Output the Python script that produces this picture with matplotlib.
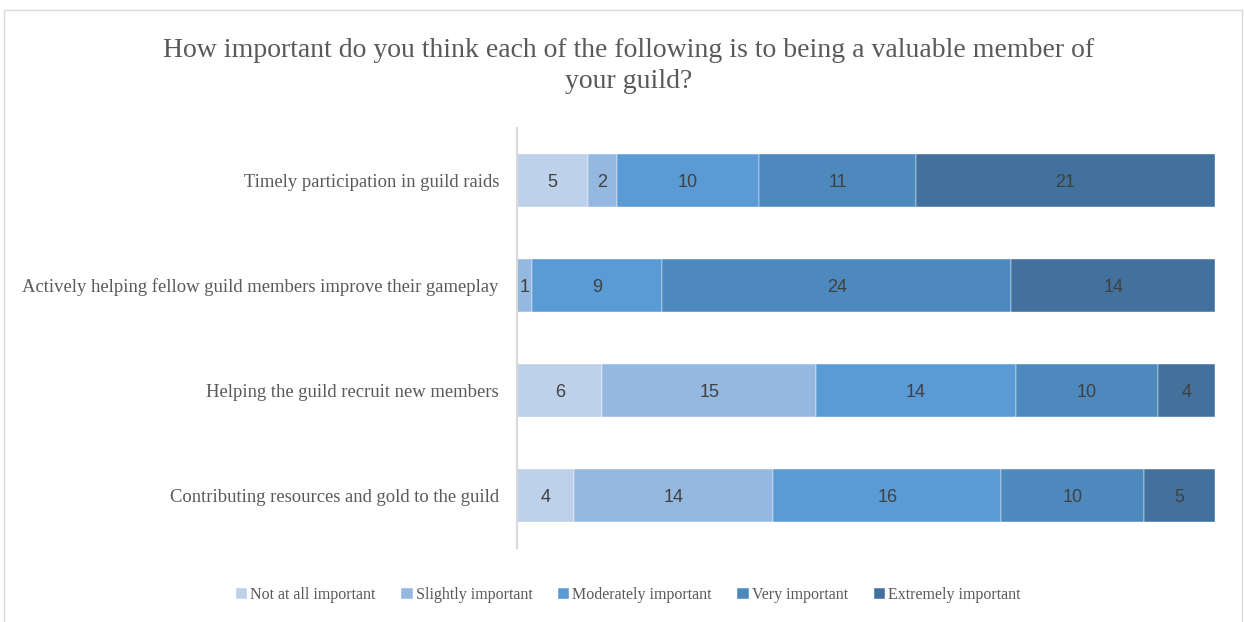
import numpy as np
import matplotlib.pyplot as plt
from matplotlib.patches import Rectangle

# 数据
categories = ['Timely participation in guild raids',
              'Actively helping fellow guild members improve their gameplay',
              'Helping the guild recruit new members',
              'Contributing resources and gold to the guild']
levels = ['Not at all important', 'Slightly important', 'Moderately important',
          'Very important', 'Extremely important']
not_at_all = [5, 0, 6, 4]
slightly = [2, 1, 15, 14]
moderately = [10, 9, 14, 16]
very = [11, 24, 10, 10]
extremely = [21, 14, 4, 5]
colors = ['#BDD1EA', '#95B8E0', '#5B9BD5', '#4E89BD', '#41719C']

series = np.array([not_at_all, slightly, moderately, very, extremely], dtype=float)
totals = series.sum(axis=0)
pct = series / totals * 100

fig = plt.figure(figsize=(12.44, 6.22), dpi=100)
fig.patches.append(Rectangle((0.003, -0.1), 0.995, 1.084, transform=fig.transFigure,
                             fill=False, edgecolor='#D9D9D9', lw=1))
ax = fig.add_axes([517 / 1244, 1 - 548 / 622, 698 / 1244, 420 / 622])

y = np.arange(len(categories))
left = np.zeros(len(categories))
for i in range(len(levels)):
    ax.barh(y, pct[i], left=left, height=0.514, color=colors[i], label=levels[i],
            edgecolor='white', linewidth=0.3)
    for j in range(len(categories)):
        if series[i, j] > 0:
            ax.text(left[j] + pct[i, j] / 2, y[j] + 0.02, '%d' % series[i, j], ha='center', va='center',
                    fontsize=13, color='#404040', family='Liberation Sans')
    left += pct[i]

ax.set_xlim(0, 100)
ax.set_ylim(3.5, -0.5)
ax.set_yticks(y)
ax.set_yticklabels(categories, fontsize=13.4, color='#595959', family='Liberation Serif')
ax.tick_params(axis='y', length=0, pad=13)
ax.set_xticks([])
for s in ['top', 'right', 'bottom']:
    ax.spines[s].set_visible(False)
ax.spines['left'].set_color('#D9D9D9')
ax.spines['left'].set_linewidth(1.5)

fig.text(0.505, 1 - 66 / 622, 'How important do you think each of the following is to being a valuable member of\nyour guild?',
         ha='center', va='center', fontsize=20, color='#595959', family='Liberation Serif',
         linespacing=1.35)

fig.legend(loc='center', bbox_to_anchor=(0.505, 1 - 595 / 622), ncol=5, frameon=False,
           prop={'family': 'Liberation Serif', 'size': 11.5}, labelcolor='#595959',
           handlelength=0.7, handleheight=0.7, handletextpad=0.2, columnspacing=1.6)

plt.savefig('out.png', dpi=100)
